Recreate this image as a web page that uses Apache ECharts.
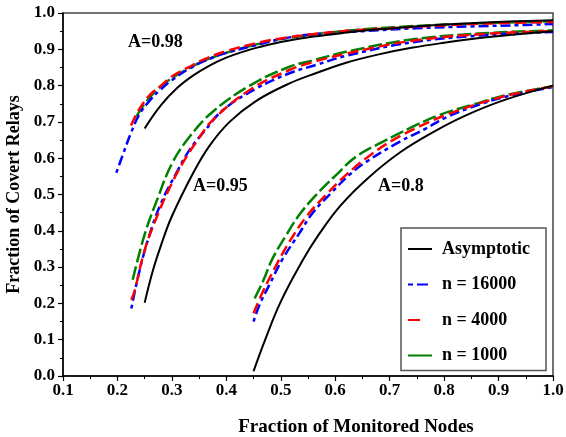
<!DOCTYPE html>
<html>
<head>
<meta charset="utf-8">
<script src="https://cdn.jsdelivr.net/npm/echarts@6/dist/echarts.min.js"></script>
<style>
  html, body { margin: 0; padding: 0; background: #fff; }
  #chart { width: 566px; height: 437px; }
</style>
</head>
<body>
<div id="chart"></div>
<script>
// axis ticks
const xTicks = [0.1, 0.2, 0.3, 0.4, 0.5, 0.6, 0.7, 0.8, 0.9, 1.0];
const yTicks = [0.0, 0.1, 0.2, 0.3, 0.4, 0.5, 0.6, 0.7, 0.8, 0.9, 1.0];

// asymptotic curves, [fraction monitored, fraction covert]
const asym98 = [[0.25,0.682],[0.28,0.746],[0.31,0.794],[0.34,0.829],[0.37,0.856],[0.40,0.877],
  [0.43,0.893],[0.46,0.906],[0.50,0.920],[0.56,0.935],[0.62,0.946],[0.68,0.955],[0.74,0.962],
  [0.80,0.968],[0.865,0.973],[0.93,0.977],[1.0,0.98]];
const asym95 = [[0.25,0.202],[0.265,0.29],[0.28,0.36],[0.30,0.44],[0.3386,0.558],[0.369,0.634],
  [0.406,0.70],[0.455,0.758],[0.516,0.806],[0.568,0.836],[0.62,0.863],[0.68,0.886],[0.74,0.904],
  [0.80,0.918],[0.865,0.931],[0.93,0.941],[1.0,0.95]];
const asym80 = [[0.45,0.013],[0.47,0.095],[0.50,0.205],[0.54,0.318],[0.57,0.39],[0.61,0.47],
  [0.66,0.545],[0.72,0.617],[0.78,0.672],[0.84,0.718],[0.91,0.76],[1.0,0.80]];

// n = 16000
const n16k98 = [[0.198,0.56],[0.21,0.61],[0.225,0.67],[0.24,0.72],[0.26,0.76],[0.28,0.79],
  [0.30,0.815],[0.33,0.845],[0.36,0.868],[0.40,0.89],[0.45,0.91],[0.50,0.928],[0.55,0.94],
  [0.65,0.95],[0.75,0.958],[0.85,0.963],[0.95,0.967],[1.0,0.97]];
const n16k95 = [[0.2255,0.186],[0.238,0.274],[0.256,0.375],[0.28,0.476],[0.311,0.567],[0.3325,0.623],
  [0.36,0.675],[0.394,0.733],[0.455,0.792],[0.516,0.834],[0.565,0.857],[0.62,0.882],[0.74,0.919],
  [0.865,0.938],[1.0,0.948]];
const n16k80 = [[0.45,0.15],[0.461,0.196],[0.479,0.251],[0.504,0.324],[0.534,0.393],[0.559,0.45],
  [0.595,0.508],[0.626,0.554],[0.657,0.59],[0.718,0.645],[0.767,0.682],[0.803,0.712],
  [0.865,0.748],[0.926,0.774],[1.0,0.796]];

// n = 4000
const n4k98 = [[0.225,0.69],[0.24,0.735],[0.26,0.775],[0.28,0.80],[0.30,0.825],[0.33,0.85],
  [0.36,0.873],[0.40,0.895],[0.45,0.915],[0.50,0.93],[0.60,0.948],[0.70,0.958],[0.80,0.966],
  [0.90,0.972],[1.0,0.975]];
const n4k95 = [[0.2255,0.21],[0.232,0.237],[0.25,0.347],[0.275,0.448],[0.30,0.531],[0.323,0.595],
  [0.345,0.645],[0.375,0.705],[0.443,0.788],[0.516,0.843],[0.56,0.865],[0.62,0.888],[0.74,0.923],
  [0.87,0.942],[1.0,0.95]];
const n4k80 = [[0.45,0.173],[0.467,0.232],[0.492,0.306],[0.516,0.37],[0.547,0.439],[0.583,0.499],
  [0.62,0.554],[0.663,0.607],[0.706,0.65],[0.754,0.687],[0.803,0.719],[0.865,0.751],
  [0.926,0.776],[1.0,0.798]];

// n = 1000
const n1k98 = [[0.235,0.715],[0.25,0.75],[0.27,0.785],[0.29,0.81],[0.31,0.83],[0.34,0.855],
  [0.37,0.875],[0.41,0.895],[0.46,0.915],[0.50,0.928],[0.60,0.948],[0.70,0.96],[0.80,0.968],
  [0.90,0.973],[1.0,0.977]];
const n1k95 = [[0.228,0.265],[0.25,0.39],[0.274,0.49],[0.30,0.585],[0.3325,0.659],[0.375,0.728],
  [0.443,0.80],[0.516,0.852],[0.56,0.87],[0.62,0.893],[0.74,0.927],[0.87,0.944],[1.0,0.952]];
const n1k80 = [[0.452,0.214],[0.467,0.26],[0.485,0.324],[0.51,0.388],[0.534,0.444],[0.565,0.499],
  [0.602,0.554],[0.638,0.604],[0.687,0.645],[0.736,0.682],[0.791,0.719],[0.852,0.747],
  [0.914,0.774],[1.0,0.798]];

const font = '"Liberation Serif", "Times New Roman", serif';

const chart = echarts.init(document.getElementById('chart'));

function curve(name, data, color, width, dash, z) {
  return {
    name: name,
    type: 'line',
    data: data,
    smooth: 0.4,
    showSymbol: false,
    symbol: 'none',
    z: z,
    lineStyle: { color: color, width: width, type: dash },
    itemStyle: { color: color },
    animation: false
  };
}

const blueDash = [4, 4, 10, 4];
const redDash = [11, 5];
const greenDash = [14, 4];

const series = [
  curve('Asymptotic', asym98, '#000', 2, 'solid', 5),
  curve('Asymptotic', asym95, '#000', 2, 'solid', 5),
  curve('Asymptotic', asym80, '#000', 2, 'solid', 5),
  curve('n = 16000', n16k98, '#0000ff', 2.5, blueDash, 3),
  curve('n = 16000', n16k95, '#0000ff', 2.5, blueDash, 3),
  curve('n = 16000', n16k80, '#0000ff', 2.5, blueDash, 3),
  curve('n = 4000', n4k98, '#ff0000', 2.5, redDash, 4),
  curve('n = 4000', n4k95, '#ff0000', 2.5, redDash, 4),
  curve('n = 4000', n4k80, '#ff0000', 2.5, redDash, 4),
  curve('n = 1000', n1k98, '#008000', 2.5, greenDash, 2),
  curve('n = 1000', n1k95, '#008000', 2.5, greenDash, 2),
  curve('n = 1000', n1k80, '#008000', 2.5, greenDash, 2)
];

const axisText = { color: '#000', fontFamily: font, fontWeight: 'bold', fontSize: 17 };

const option = {
  backgroundColor: '#fff',
  animation: false,
  grid: {
    left: 63, right: 13, top: 13, bottom: 61,
    outerBoundsMode: 'none',
    containLabel: false,
    show: true, borderColor: '#444', borderWidth: 1.5, backgroundColor: 'transparent'
  },
  xAxis: {
    type: 'value',
    min: xTicks[0], max: xTicks[xTicks.length - 1], interval: 0.1,
    name: 'Fraction of Monitored Nodes',
    nameLocation: 'middle', nameGap: 42,
    nameTextStyle: { fontFamily: font, fontWeight: 'bold', fontSize: 19, color: '#000', padding: [0, 0, 0, 96] },
    axisLine: { show: true, onZero: false, lineStyle: { color: '#000', width: 1.5 } },
    axisTick: { show: true, inside: false, length: 5, lineStyle: { color: '#000', width: 1.2 } },
    minorTick: { show: true, splitNumber: 2, length: 3, lineStyle: { color: '#000', width: 1 } },
    splitLine: { show: false },
    axisLabel: Object.assign({ margin: 6, formatter: v => v.toFixed(1) }, axisText)
  },
  yAxis: {
    type: 'value',
    min: yTicks[0], max: yTicks[yTicks.length - 1], interval: 0.1,
    name: 'Fraction of Covert Relays',
    nameLocation: 'middle', nameGap: 39,
    nameTextStyle: { fontFamily: font, fontWeight: 'bold', fontSize: 18, color: '#000' },
    axisLine: { show: true, onZero: false, lineStyle: { color: '#000', width: 1.5 } },
    axisTick: { show: true, inside: false, length: 5, lineStyle: { color: '#000', width: 1.2 } },
    minorTick: { show: true, splitNumber: 2, length: 3, lineStyle: { color: '#000', width: 1 } },
    splitLine: { show: false },
    axisLabel: Object.assign({ margin: 8, formatter: v => v.toFixed(1) }, axisText)
  },
  legend: {
    show: true,
    data: [
      { name: 'Asymptotic' },
      { name: 'n = 16000', lineStyle: { type: [5, 4, 11, 4] } },
      { name: 'n = 4000', lineStyle: { type: [12, 14] } },
      { name: 'n = 1000', lineStyle: { type: 'solid' } }
    ],
    orient: 'vertical',
    left: 401, top: 228,
    padding: [12, 16, 6, 6],
    itemWidth: 24, itemHeight: 14, itemGap: 17.5,
    borderColor: '#555', borderWidth: 1.5,
    backgroundColor: '#fff',
    z: 10,
    itemStyle: { opacity: 0 },
    textStyle: { fontFamily: font, fontWeight: 'bold', fontSize: 18, color: '#000', padding: [0, 0, 0, 5] }
  },
  graphic: [
    { type: 'text', left: 128, top: 33, z: 10,
      style: { text: 'A=0.98', font: 'bold 18px ' + font, fill: '#000' } },
    { type: 'text', left: 193, top: 177, z: 10,
      style: { text: 'A=0.95', font: 'bold 18px ' + font, fill: '#000' } },
    { type: 'text', left: 378, top: 177, z: 10,
      style: { text: 'A=0.8', font: 'bold 18px ' + font, fill: '#000' } }
  ],
  series: series
};

chart.setOption(option);
</script>
</body>
</html>
